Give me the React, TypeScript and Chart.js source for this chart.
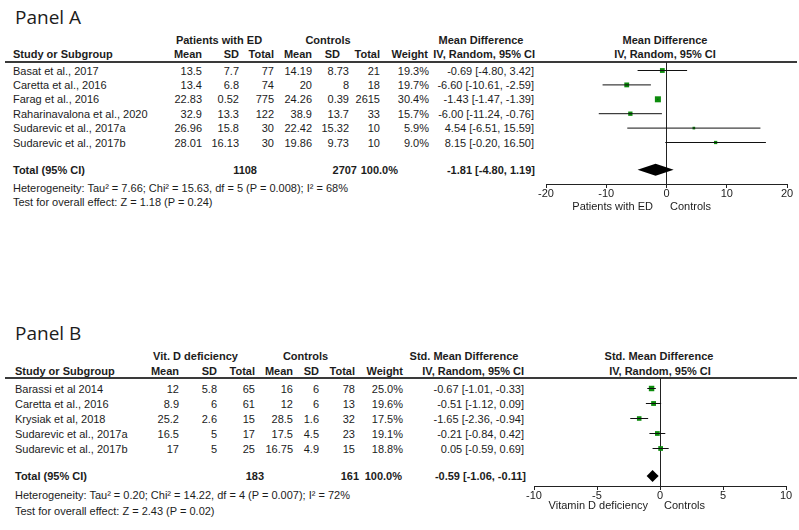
import React, { useEffect, useRef } from 'react';
import { Chart, registerables } from 'chart.js';

Chart.register(...registerables);

// ---------------- Panel A data ----------------
const studiesA = [
  'Basat et al., 2017',
  'Caretta et al., 2016',
  'Farag et al., 2016',
  'Raharinavalona et al., 2020',
  'Sudarevic et al., 2017a',
  'Sudarevic et al., 2017b',
];
const edMeanA = [13.5, 13.4, 22.83, 32.9, 26.96, 28.01];
const edSdA = [7.7, 6.8, 0.52, 13.3, 15.8, 16.13];
const edTotalA = [77, 74, 775, 122, 30, 30];
const ctrlMeanA = [14.19, 20, 24.26, 38.9, 22.42, 19.86];
const ctrlSdA = [8.73, 8, 0.39, 13.7, 15.32, 9.73];
const ctrlTotalA = [21, 18, 2615, 33, 10, 10];
const weightA = [19.3, 19.7, 30.4, 15.7, 5.9, 9.0];
const mdA = [-0.69, -6.6, -1.43, -6.0, 4.54, 8.15];
const loA = [-4.8, -10.61, -1.47, -11.24, -6.51, -0.2];
const hiA = [3.42, -2.59, -1.39, -0.76, 15.59, 16.5];
const totalsA = [1108, 2707];
const pooledA = [-1.81, -4.8, 1.19];
const ticksA = [-20, -10, 0, 10, 20];
const hetA = 'Heterogeneity: Tau\u00b2 = 7.66; Chi\u00b2 = 15.63, df = 5 (P = 0.008); I\u00b2 = 68%';
const testA = 'Test for overall effect: Z = 1.18 (P = 0.24)';

// ---------------- Panel B data ----------------
const studiesB = [
  'Barassi et al 2014',
  'Caretta et al., 2016',
  'Krysiak et al, 2018',
  'Sudarevic et al., 2017a',
  'Sudarevic et al., 2017b',
];
const vdMeanB = [12, 8.9, 25.2, 16.5, 17];
const vdSdB = [5.8, 6, 2.6, 5, 5];
const vdTotalB = [65, 61, 15, 17, 25];
const ctrlMeanB = [16, 12, 28.5, 17.5, 16.75];
const ctrlSdB = [6, 6, 1.6, 4.5, 4.9];
const ctrlTotalB = [78, 13, 32, 23, 15];
const weightB = [25.0, 19.6, 17.5, 19.1, 18.8];
const smdB = [-0.67, -0.51, -1.65, -0.21, 0.05];
const loB = [-1.01, -1.12, -2.36, -0.84, -0.59];
const hiB = [-0.33, 0.09, -0.94, 0.42, 0.69];
const totalsB = [183, 161];
const pooledB = [-0.59, -1.06, -0.11];
const ticksB = [-10, -5, 0, 5, 10];
const hetB = 'Heterogeneity: Tau\u00b2 = 0.20; Chi\u00b2 = 14.22, df = 4 (P = 0.007); I\u00b2 = 72%';
const testB = 'Test for overall effect: Z = 2.43 (P = 0.02)';

// ---------------- styling ----------------
const FONT = '"Liberation Sans", Arial, sans-serif';
const INK = '#1c1c1c';
const GREEN = '#0c8c0c';

const fmtCI = (e: number, l: number, h: number) =>
  `${e.toFixed(2)} [${l.toFixed(2)}, ${h.toFixed(2)}]`;

const diamondPlugin = {
  id: 'diamond',
  afterDatasetsDraw(chart: any, _args: any, opts: any) {
    const { ctx } = chart;
    const x = chart.scales.x;
    const y = chart.scales.y;
    const [est, lo, hi] = opts.pooled;
    const cy = y.getPixelForValue(opts.row);
    const half = opts.half;
    ctx.save();
    ctx.beginPath();
    ctx.moveTo(x.getPixelForValue(lo), cy);
    ctx.lineTo(x.getPixelForValue(est), cy - half);
    ctx.lineTo(x.getPixelForValue(hi), cy);
    ctx.lineTo(x.getPixelForValue(est), cy + half);
    ctx.closePath();
    ctx.fillStyle = '#000';
    ctx.fill();
    ctx.restore();
  },
};

type ForestProps = {
  left: number;
  top: number;
  width: number;
  height: number;
  pad: { left: number; right: number; top: number; bottom: number };
  est: number[];
  lo: number[];
  hi: number[];
  weight: number[];
  pooled: number[];
  pooledRow: number;
  xTicks: number[];
  yMin: number;
  yMax: number;
};

function Forest(p: ForestProps) {
  const ref = useRef<HTMLCanvasElement>(null);
  useEffect(() => {
    const canvas = ref.current;
    if (!canvas) return;
    const datasets: any[] = p.est.map((_, i) => ({
      data: [
        { x: p.lo[i], y: i },
        { x: p.hi[i], y: i },
      ],
      showLine: true,
      borderColor: '#111',
      borderWidth: 1,
      pointRadius: 0,
      pointHoverRadius: 0,
    }));
    datasets.push({
      data: p.est.map((e, i) => ({ x: e, y: i })),
      pointStyle: 'rect',
      pointRadius: p.weight.map((w) => (1.09 * Math.sqrt(w)) / Math.SQRT2),
      backgroundColor: GREEN,
      borderWidth: 0,
      showLine: false,
    });
    const chart = new Chart(canvas, {
      type: 'scatter',
      data: { datasets },
      options: {
        animation: false,
        responsive: false,
        events: [],
        layout: { padding: p.pad },
        plugins: {
          legend: { display: false },
          tooltip: { enabled: false },
          diamond: { pooled: p.pooled, row: p.pooledRow, half: 6 },
        } as any,
        scales: {
          x: {
            type: 'linear',
            min: p.xTicks[0],
            max: p.xTicks[p.xTicks.length - 1],
            afterBuildTicks: (s: any) => {
              s.ticks = p.xTicks.map((v) => ({ value: v }));
            },
            afterFit: (s: any) => {
              s.height = 25;
            },
            border: { display: true, color: '#222', width: 1 },
            grid: {
              drawOnChartArea: true,
              color: (c: any) =>
                c.tick && c.tick.value === 0 ? '#222' : 'rgba(0,0,0,0)',
              tickColor: '#222',
              tickLength: 4,
              lineWidth: 1,
            },
            ticks: {
              font: { family: FONT, size: 11, lineHeight: 1 },
              color: INK,
              padding: 0,
              maxRotation: 0,
              autoSkip: false,
            },
          },
          y: {
            type: 'linear',
            display: false,
            reverse: true,
            min: p.yMin,
            max: p.yMax,
          },
        },
      },
      plugins: [diamondPlugin],
    } as any);
    return () => chart.destroy();
  }, []);
  return (
    <canvas
      ref={ref}
      width={p.width}
      height={p.height}
      style={{ position: 'absolute', left: p.left, top: p.top, width: p.width, height: p.height }}
    />
  );
}

type TxtProps = {
  x: number;
  y: number;
  children: React.ReactNode;
  align?: 'left' | 'right' | 'center';
  bold?: boolean;
  size?: number;
  family?: string;
};

function Txt({ x, y, children, align = 'left', bold = false, size = 11, family = FONT }: TxtProps) {
  return (
    <div
      style={{
        position: 'absolute',
        left: x,
        top: y - 8,
        height: 16,
        lineHeight: '16px',
        fontSize: size,
        fontFamily: family,
        fontWeight: bold ? 700 : 400,
        color: INK,
        whiteSpace: 'nowrap',
        transform:
          align === 'right' ? 'translateX(-100%)' : align === 'center' ? 'translateX(-50%)' : undefined,
      }}
    >
      {children}
    </div>
  );
}

const Rule = ({ y }: { y: number }) => (
  <div style={{ position: 'absolute', left: 5, width: 792, top: y - 1, height: 2, background: '#3a3a3a' }} />
);

export default function App() {
  // layout for panel A
  const A = { name: 13, m1: 202, s1: 239, n1: 274, m2: 312, s2: 349, n2: 380, w: 429, ci: 534, y0: 70.5, dy: 14.4 };
  // layout for panel B
  const B = { name: 15, m1: 179, s1: 217, n1: 255, m2: 293, s2: 319, n2: 355, w: 403, ci: 524, y0: 388.5, dy: 15 };

  return (
    <div
      style={{
        position: 'absolute',
        left: 0,
        top: 0,
        width: 799,
        height: 530,
        background: '#fff',
        overflow: 'hidden',
      }}
    >
      {/* ================= Panel A ================= */}
      <Txt x={15} y={17} size={19} family='"Open Sans", "Noto Sans", sans-serif'>Panel A</Txt>
      <Txt x={219} y={40} align="center" bold>Patients with ED</Txt>
      <Txt x={328} y={40} align="center" bold>Controls</Txt>
      <Txt x={481} y={40} align="center" bold>Mean Difference</Txt>
      <Txt x={665} y={40} align="center" bold>Mean Difference</Txt>

      <Txt x={A.name} y={54} bold>Study or Subgroup</Txt>
      <Txt x={A.m1} y={54} align="right" bold>Mean</Txt>
      <Txt x={A.s1} y={54} align="right" bold>SD</Txt>
      <Txt x={A.n1} y={54} align="right" bold>Total</Txt>
      <Txt x={A.m2} y={54} align="right" bold>Mean</Txt>
      <Txt x={340} y={54} align="right" bold>SD</Txt>
      <Txt x={A.n2} y={54} align="right" bold>Total</Txt>
      <Txt x={428} y={54} align="right" bold>Weight</Txt>
      <Txt x={535} y={54} align="right" bold>IV, Random, 95% CI</Txt>
      <Txt x={665} y={54} align="center" bold>IV, Random, 95% CI</Txt>
      <Rule y={62} />

      {studiesA.map((s, i) => {
        const y = A.y0 + A.dy * i;
        return (
          <React.Fragment key={'a' + i}>
            <Txt x={A.name} y={y}>{s}</Txt>
            <Txt x={A.m1} y={y} align="right">{String(edMeanA[i])}</Txt>
            <Txt x={A.s1} y={y} align="right">{String(edSdA[i])}</Txt>
            <Txt x={A.n1} y={y} align="right">{String(edTotalA[i])}</Txt>
            <Txt x={A.m2} y={y} align="right">{String(ctrlMeanA[i])}</Txt>
            <Txt x={A.s2} y={y} align="right">{String(ctrlSdA[i])}</Txt>
            <Txt x={A.n2} y={y} align="right">{String(ctrlTotalA[i])}</Txt>
            <Txt x={A.w} y={y} align="right">{weightA[i].toFixed(1) + '%'}</Txt>
            <Txt x={A.ci} y={y} align="right">{fmtCI(mdA[i], loA[i], hiA[i])}</Txt>
          </React.Fragment>
        );
      })}
      <Txt x={A.name} y={170} bold>Total (95% CI)</Txt>
      <Txt x={257} y={170} align="right" bold>{String(totalsA[0])}</Txt>
      <Txt x={357} y={170} align="right" bold>{String(totalsA[1])}</Txt>
      <Txt x={398} y={170} align="right" bold>100.0%</Txt>
      <Txt x={535} y={170} align="right" bold>{fmtCI(pooledA[0], pooledA[1], pooledA[2])}</Txt>
      <Txt x={A.name} y={188}>{hetA}</Txt>
      <Txt x={A.name} y={202}>{testA}</Txt>

      <Forest
        left={520}
        top={50}
        width={279}
        height={160}
        pad={{ left: 26, right: 12, top: 12, bottom: 1 }}
        est={mdA}
        lo={loA}
        hi={hiA}
        weight={weightA}
        pooled={pooledA}
        pooledRow={6.9}
        xTicks={ticksA}
        yMin={(62 - 70.5) / 14.4}
        yMax={(184 - 70.5) / 14.4}
      />
      <Txt x={653} y={206} align="right">Patients with ED</Txt>
      <Txt x={670} y={206}>Controls</Txt>

      {/* ================= Panel B ================= */}
      <Txt x={15} y={333} size={19} family='"Open Sans", "Noto Sans", sans-serif'>Panel B</Txt>
      <Txt x={195.5} y={356} align="center" bold>Vit. D deficiency</Txt>
      <Txt x={305.5} y={356} align="center" bold>Controls</Txt>
      <Txt x={464} y={356} align="center" bold>Std. Mean Difference</Txt>
      <Txt x={659} y={356} align="center" bold>Std. Mean Difference</Txt>

      <Txt x={B.name} y={371} bold>Study or Subgroup</Txt>
      <Txt x={B.m1} y={371} align="right" bold>Mean</Txt>
      <Txt x={B.s1} y={371} align="right" bold>SD</Txt>
      <Txt x={B.n1} y={371} align="right" bold>Total</Txt>
      <Txt x={B.m2} y={371} align="right" bold>Mean</Txt>
      <Txt x={B.s2} y={371} align="right" bold>SD</Txt>
      <Txt x={B.n2} y={371} align="right" bold>Total</Txt>
      <Txt x={B.w} y={371} align="right" bold>Weight</Txt>
      <Txt x={B.ci} y={371} align="right" bold>IV, Random, 95% CI</Txt>
      <Txt x={660} y={371} align="center" bold>IV, Random, 95% CI</Txt>
      <Rule y={378} />

      {studiesB.map((s, i) => {
        const y = B.y0 + B.dy * i;
        return (
          <React.Fragment key={'b' + i}>
            <Txt x={B.name} y={y}>{s}</Txt>
            <Txt x={B.m1} y={y} align="right">{String(vdMeanB[i])}</Txt>
            <Txt x={B.s1} y={y} align="right">{String(vdSdB[i])}</Txt>
            <Txt x={B.n1} y={y} align="right">{String(vdTotalB[i])}</Txt>
            <Txt x={B.m2} y={y} align="right">{String(ctrlMeanB[i])}</Txt>
            <Txt x={B.s2} y={y} align="right">{String(ctrlSdB[i])}</Txt>
            <Txt x={B.n2} y={y} align="right">{String(ctrlTotalB[i])}</Txt>
            <Txt x={B.w} y={y} align="right">{weightB[i].toFixed(1) + '%'}</Txt>
            <Txt x={B.ci} y={y} align="right">{fmtCI(smdB[i], loB[i], hiB[i])}</Txt>
          </React.Fragment>
        );
      })}
      <Txt x={B.name} y={476} bold>Total (95% CI)</Txt>
      <Txt x={264} y={476} align="right" bold>{String(totalsB[0])}</Txt>
      <Txt x={359} y={476} align="right" bold>{String(totalsB[1])}</Txt>
      <Txt x={402} y={476} align="right" bold>100.0%</Txt>
      <Txt x={526} y={476} align="right" bold>{fmtCI(pooledB[0], pooledB[1], pooledB[2])}</Txt>
      <Txt x={B.name} y={495}>{hetB}</Txt>
      <Txt x={B.name} y={511}>{testB}</Txt>

      <Forest
        left={520}
        top={366}
        width={279}
        height={160}
        pad={{ left: 14, right: 13, top: 12, bottom: 15 }}
        est={smdB}
        lo={loB}
        hi={hiB}
        weight={weightB}
        pooled={pooledB}
        pooledRow={(476 - 388.5) / 15}
        xTicks={ticksB}
        yMin={(378 - 388.5) / 15}
        yMax={(486 - 388.5) / 15}
      />
      <Txt x={648} y={505} align="right">Vitamin D deficiency</Txt>
      <Txt x={664} y={505}>Controls</Txt>
    </div>
  );
}
